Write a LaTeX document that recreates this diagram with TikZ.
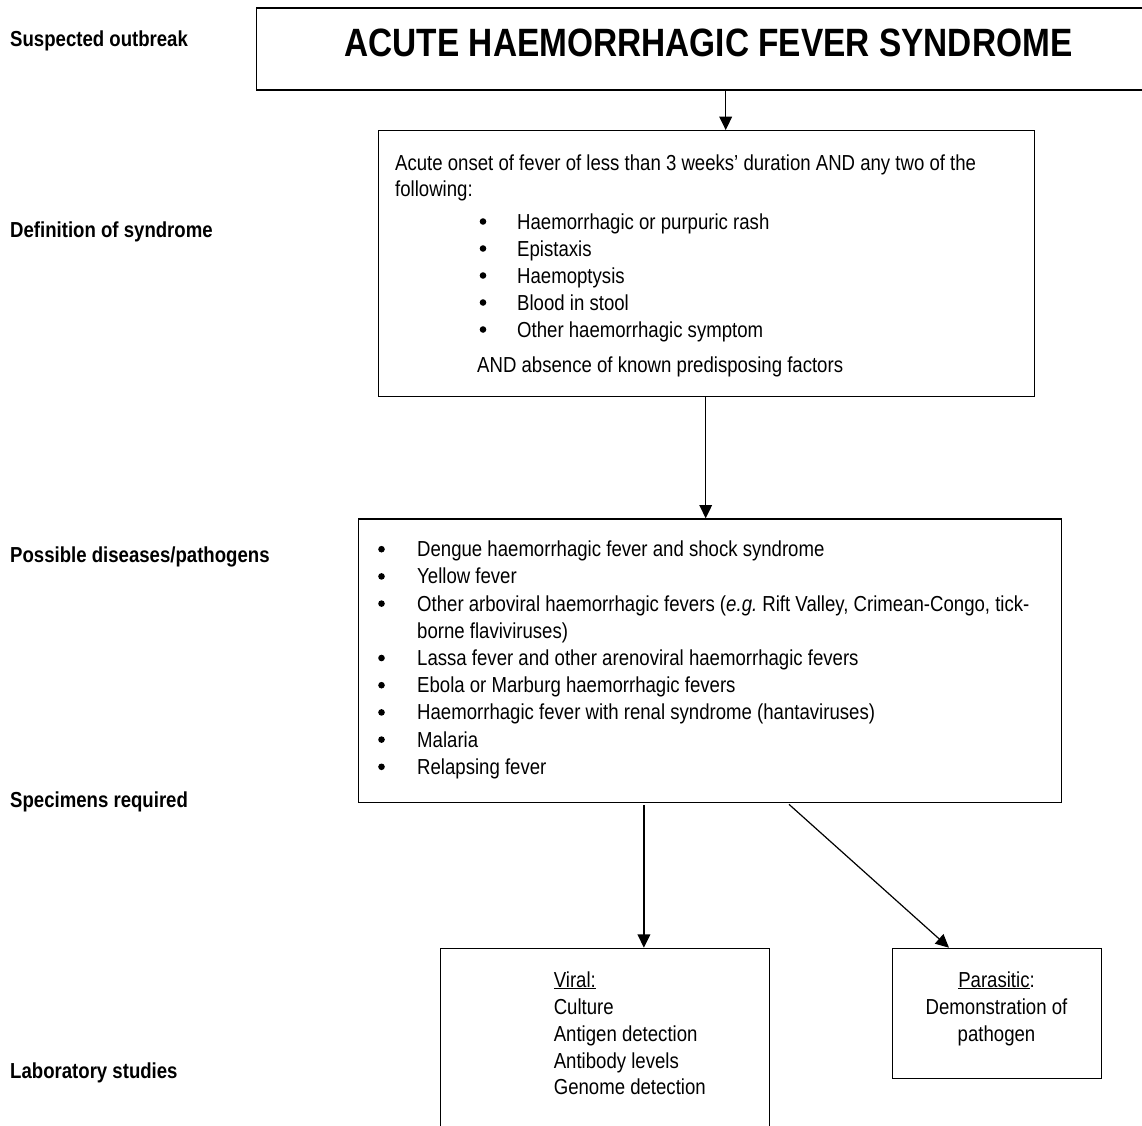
\documentclass[tikz,border=0pt]{standalone}
\usepackage{fontspec}
\usetikzlibrary{arrows.meta}
\setmainfont{Liberation Sans}
\newfontfamily\bodyfont{Liberation Sans}[FakeStretch=0.857]
\newfontfamily\headfont{Liberation Sans}[FakeStretch=0.846]
\frenchspacing

\tikzset{
  panel/.style={draw, line width=1.3pt, rectangle, anchor=north west, inner sep=0pt},
  arr/.style={line width=1.2pt, -{Triangle[width=12.7pt,length=13.3pt]}},
  body/.style={font=\bodyfont\fontsize{21.7pt}{27pt}\selectfont, inner sep=0pt, anchor=base west},
  dot/.style={circle, fill=black, inner sep=0pt, minimum size=6.6pt, yshift=7.5pt},
  stage/.style={font=\bodyfont\bfseries\fontsize{21.7pt}{27pt}\selectfont, inner sep=0pt, anchor=base west},
  mid/.style={font=\bodyfont\fontsize{21.7pt}{27pt}\selectfont, inner sep=0pt, anchor=base}
}

\begin{document}
\begin{tikzpicture}[x=1pt, y=-1pt]
\useasboundingbox (0,0) rectangle (1142,1125);
\clip (0,0) rectangle (1142,1125);
\fill[white] (0,0) rectangle (1142,1125);

% stage labels on the left
\node[stage] (s1) at (10,46)   {Suspected outbreak};
\node[stage] (s2) at (10,237)  {Definition of syndrome};
\node[stage] (s3) at (10,562)  {Possible diseases/pathogens};
\node[stage] (s4) at (10,807)  {Specimens required};
\node[stage] (s5) at (10,1078) {Laboratory studies};

% boxes
\node[panel, minimum width=905.3pt, minimum height=82pt]    (title) at (255.7,7.3) {};
\node[panel, minimum width=656.5pt, minimum height=265.7pt] (def)   at (377.5,130) {};
\node[panel, minimum width=703.3pt, minimum height=283.4pt] (dis)   at (357.7,518.3) {};
\node[panel, minimum width=329.5pt, minimum height=200pt]   (vir)   at (439.5,947.7) {};
\node[panel, minimum width=209pt,   minimum height=130.3pt] (par)   at (892,947.7) {};

% title
\node[font=\headfont\bfseries\fontsize{39.5pt}{44pt}\selectfont, inner sep=0pt, anchor=base]
  (ttl) at (708.5,56) {ACUTE HAEMORRHAGIC FEVER SYNDROME};

% case definition
\node[body] (c1) at (395,170) {Acute onset of fever of less than 3 weeks’ duration AND any two of the};
\node[body] (c2) at (395,196) {following:};
\foreach \t [count=\i] in {Haemorrhagic or purpuric rash, Epistaxis, Haemoptysis, Blood in stool, Other haemorrhagic symptom}{
  \node[dot]  (cb\i) at (483,{229+27*(\i-1)}) {};
  \node[body] (ct\i) at (517,{229+27*(\i-1)}) {\t};
}
\node[body] (c3) at (477,372) {AND absence of known predisposing factors};

% possible diseases
\node[dot]  (pb1) at (381.5,556.7) {};
\node[body] (pt1) at (417,556.7) {Dengue haemorrhagic fever and shock syndrome};
\node[dot]  (pb2) at (381.5,583.9) {};
\node[body] (pt2) at (417,583.9) {Yellow fever};
\node[dot]  (pb3) at (381.5,611.1) {};
\node[body] (pt3) at (417,611.1) {Other arboviral haemorrhagic fevers ({\itshape e.g.} Rift Valley, Crimean-Congo, tick-};
\node[body] (pt3b) at (417,638.3) {borne flaviviruses)};
\node[dot]  (pb4) at (381.5,665.5) {};
\node[body] (pt4) at (417,665.5) {Lassa fever and other arenoviral haemorrhagic fevers};
\node[dot]  (pb5) at (381.5,692.7) {};
\node[body] (pt5) at (417,692.7) {Ebola or Marburg haemorrhagic fevers};
\node[dot]  (pb6) at (381.5,719.9) {};
\node[body] (pt6) at (417,719.9) {Haemorrhagic fever with renal syndrome (hantaviruses)};
\node[dot]  (pb7) at (381.5,747.1) {};
\node[body] (pt7) at (417,747.1) {Malaria};
\node[dot]  (pb8) at (381.5,774.3) {};
\node[body] (pt8) at (417,774.3) {Relapsing fever};

% laboratory studies
\node[body] (v0) at (553.6,987)  {\underline{Viral:}};
\node[body] (v1) at (553.6,1014) {Culture};
\node[body] (v2) at (553.6,1041) {Antigen detection};
\node[body] (v3) at (553.6,1068) {Antibody levels};
\node[body] (v4) at (553.6,1094) {Genome detection};

\node[mid] (p0) at (996.5,987)  {\underline{Parasitic}:};
\node[mid] (p1) at (996.5,1014) {Demonstration of};
\node[mid] (p2) at (996.5,1041) {pathogen};

% connectors
\coordinate (x1) at (725.7,0);
\coordinate (x2) at (705.7,0);
\coordinate (x3) at (643.9,0);
\coordinate (x4a) at (787.5,0);
\coordinate (x4b) at (949,0);
\draw[arr] (title.south -| x1) -- (def.north -| x1);
\draw[arr] (def.south -| x2) -- (dis.north -| x2);
\draw[arr, shorten <=2pt] (dis.south -| x3) -- (vir.north -| x3);
\draw[arr, shorten <=2pt] (dis.south -| x4a) -- (par.north -| x4b);
\end{tikzpicture}
\end{document}
